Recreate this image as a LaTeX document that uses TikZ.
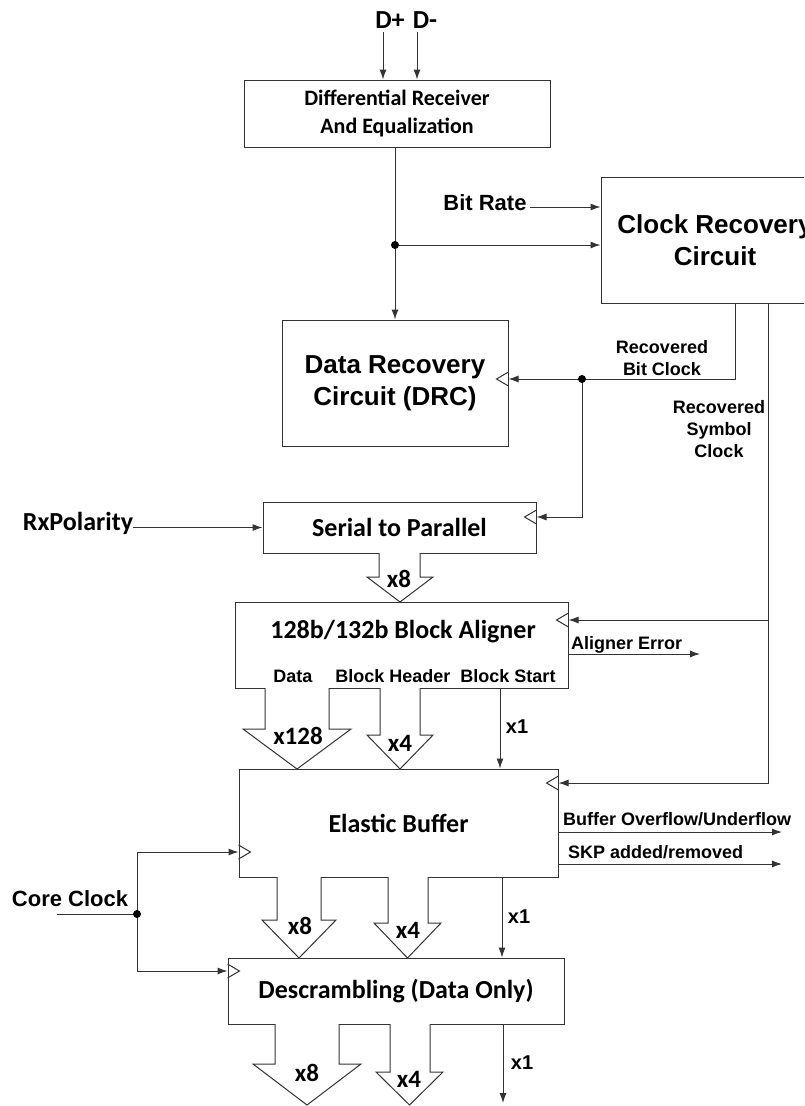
\documentclass[tikz,border=0pt]{standalone}
\usepackage{fontspec}
\setmainfont{Liberation Sans}
\newfontfamily\calibfont{Carlito}
\usetikzlibrary{arrows.meta}
\newcommand{\busarr}[7]{\draw[bus] (#1,#3) -- (#1,#4) -- (#5,#4) -- ({(#5+#6)/2},#7) -- (#6,#4) -- (#2,#4) -- (#2,#3);}
\newcommand{\clkE}[1]{\draw[ln] (#1) ++(0,-7) -- ++(-12,7) -- ++(12,7);}
\newcommand{\clkW}[1]{\draw[ln] (#1) ++(0,-7) -- ++(12,7) -- ++(-12,7);}
\begin{document}
\begin{tikzpicture}[x=1pt,y=-1pt,
  ln/.style={draw=black!80, line width=1pt},
  arr/.style={ln, -{Latex[length=10pt,width=7pt]}},
  bus/.style={draw=black!80, line width=1pt, fill=white},
  blk/.style={draw=black!80, line width=1pt, fill=white, inner sep=0pt, align=center, text=black},
  lab/.style={inner sep=0pt, text=black},
  calA/.style={font=\calibfont\bfseries\fontsize{26}{31}\selectfont},
  calB/.style={font=\calibfont\bfseries\fontsize{22}{28}\selectfont},
  calX/.style={font=\calibfont\bfseries\fontsize{25}{30}\selectfont},
  arA/.style={font=\bfseries\fontsize{26}{32}\selectfont},
  arB/.style={font=\bfseries\fontsize{18}{22}\selectfont},
  arC/.style={font=\bfseries\fontsize{22}{26}\selectfont},
  arX/.style={font=\bfseries\fontsize{20}{24}\selectfont},
  dot/.style={fill=black}]
\useasboundingbox (0,0) rectangle (804,1106);
\clip (0,0) rectangle (804,1106);
\fill[white] (0,0) rectangle (804,1106);

% blocks
\node[blk, calB, minimum width=306pt, minimum height=67pt] (dre) at (397,113.5) {Differential Receiver\\And Equalization};
\node[blk, arA, minimum width=228pt, minimum height=126pt] (crc) at (715,240) {Clock Recovery\\Circuit};
\node[blk, arA, minimum width=226pt, minimum height=126pt] (drc) at (395,383) {Data Recovery\\Circuit (DRC)};
\node[blk, calA, minimum width=273pt, minimum height=51pt] (s2p) at (399.5,527.5) {Serial to Parallel};
\node[blk, minimum width=333pt, minimum height=86pt] (ba) at (401.5,645) {};
\node[blk, calA, minimum width=319pt, minimum height=108pt] (eb) at (398.5,823) {Elastic Buffer};
\node[blk, calA, minimum width=336pt, minimum height=66pt] (desc) at (396,991) {Descrambling (Data Only)};

% labels
\node[lab, calA] (tba) at (403,632) {128b/132b Block Aligner};
\node[lab, arB] (tdata) at (293,676) {Data};
\node[lab, arB] (thdr) at (393,676) {Block Header};
\node[lab, arB] (tstart) at (508,676) {Block Start};
\node[lab, calA] (tdp) at (390,20) {D+};
\node[lab, calA] (tdm) at (425,20) {D-};
\node[lab, arC] (tbr) at (485,203) {Bit Rate};
\node[lab, arB, align=center] (trbc) at (662,358) {Recovered\\Bit Clock};
\node[lab, arB, align=center] (trsc) at (719,429) {Recovered\\Symbol\\Clock};
\node[lab, calA] (trx) at (78,523) {RxPolarity};
\node[lab, arB, anchor=west] (tae) at (571,645) {Aligner Error};
\node[lab, arB, anchor=west] (tbo) at (563,819) {Buffer Overflow/Underflow};
\node[lab, arB, anchor=west] (tskp) at (568,852) {SKP added/removed};
\node[lab, arC] (tcc) at (70,899) {Core Clock};

% coordinates
\coordinate (dp) at (383,32);
\coordinate (dm) at (417,32);
\coordinate (j1) at (395,245);
\coordinate (brs) at (530,207);
\coordinate (bcx) at (735,379);
\coordinate (j2) at (582,379);
\coordinate (k2) at (582,517);
\coordinate (sc1) at (768,620);
\coordinate (sc2) at (768,783);
\coordinate (ae) at (700,654);
\coordinate (bo) at (782,832);
\coordinate (skp) at (782,864);
\coordinate (cci) at (57,914);
\coordinate (j3) at (137,914);
\coordinate (e1) at (137,852);
\coordinate (e2) at (137,971);
\coordinate (xa) at (500,0);
\coordinate (xb) at (502,0);
\coordinate (xc) at (503,1103);

\coordinate (cdrc) at (drc.east |- j2);
\coordinate (cs2p) at (s2p.east |- k2);
\coordinate (cba) at (ba.east |- sc1);
\coordinate (ceb) at (eb.east |- sc2);
\coordinate (cebw) at (eb.west |- e1);
\coordinate (cdesc) at (desc.west |- e2);

% connectors
\draw[arr] (dp) -- (dp |- dre.north);
\draw[arr] (dm) -- (dm |- dre.north);
\draw[arr] (dre.south -| drc.north) -- (drc.north);
\draw[arr] (j1) -- (j1 -| crc.west);
\draw[arr] (brs) -- (brs -| crc.west);
\draw[arr] (crc.south -| bcx) -- (bcx) -- (cdrc);
\draw[arr] (j2) -- (k2) -- (cs2p);
\draw[arr] (crc.south -| sc2) -- (sc2) -- (ceb);
\draw[arr] (sc1) -- (cba);
\draw[arr] (trx.east |- s2p.west) -- (s2p.west);
\draw[arr] (ae -| ba.east) -- (ae);
\draw[arr] (bo -| eb.east) -- (bo);
\draw[arr] (skp -| eb.east) -- (skp);
\draw[ln] (cci) -- (j3);
\draw[arr] (j3) -- (e1) -- (cebw);
\draw[arr] (j3) -- (e2) -- (cdesc);
\draw[arr] (xa |- ba.south) -- (xa |- eb.north);
\draw[arr] (xb |- eb.south) -- (xb |- desc.north);
\draw[arr] (xc |- desc.south) -- (xc);

\fill[dot] (j1) circle[radius=4pt];
\fill[dot] (j2) circle[radius=4pt];
\fill[dot] (j3) circle[radius=4pt];

% clock triangles
\clkE{cdrc}
\clkE{cs2p}
\clkE{cba}
\clkE{ceb}
\clkW{cebw}
\clkW{cdesc}

% bus arrows
\busarr{379}{420}{553}{577}{367}{433}{602}
\busarr{265}{329}{688}{729}{243}{351}{769}
\busarr{380}{420}{688}{735}{367}{433}{769}
\busarr{277}{321}{877}{920}{262}{336}{958}
\busarr{388}{428}{877}{923}{374}{441}{958}
\busarr{275}{339}{1024}{1064}{253}{361}{1105}
\busarr{390}{430}{1024}{1072}{376}{443}{1105}

\node[lab, calX] (b1) at (399,579) {x8};
\node[lab, calX] (b2) at (298,736) {x128};
\node[lab, calX] (b3) at (400,743) {x4};
\node[lab, calX] (b4) at (300,926) {x8};
\node[lab, calX] (b5) at (408,930) {x4};
\node[lab, calX] (b6) at (307,1073) {x8};
\node[lab, calX] (b7) at (409,1079) {x4};
\node[lab, arX] (x1a) at (517,727) {x1};
\node[lab, arX] (x1b) at (519,917) {x1};
\node[lab, arX] (x1c) at (522,1063) {x1};
\end{tikzpicture}
\end{document}
